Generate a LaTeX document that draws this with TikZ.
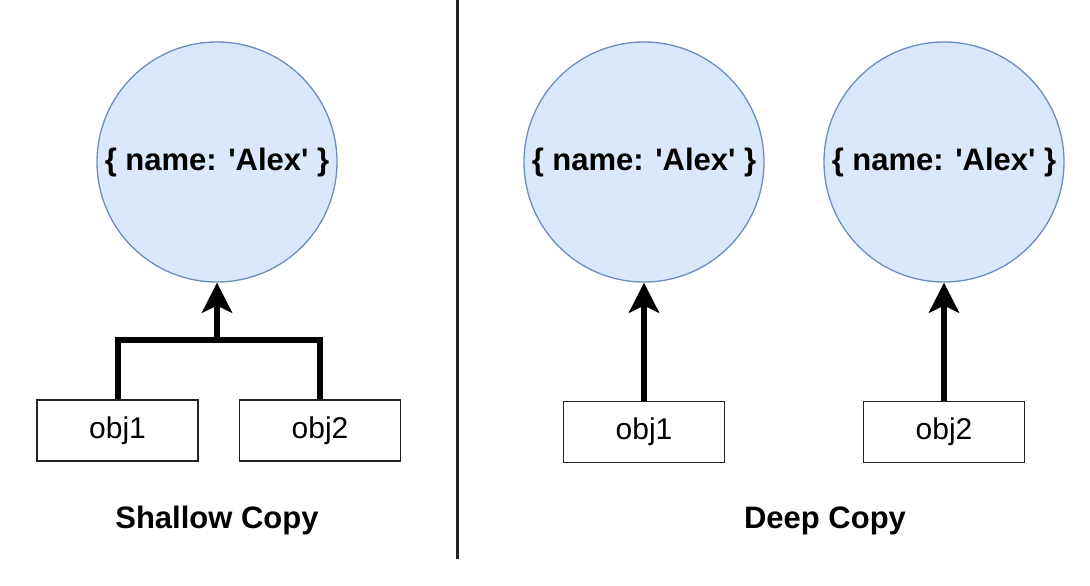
\documentclass[tikz,border=0pt]{standalone}
\usepackage{fontspec}
\setmainfont{Liberation Sans}
\usepackage{tikz}
\usetikzlibrary{arrows.meta, positioning, calc}
\usepackage{xcolor}
\definecolor{heapfill}{HTML}{DAE8FC}
\definecolor{heapline}{HTML}{6C8EBF}
\definecolor{inkdark}{RGB}{34,34,34}

\begin{document}
\begin{tikzpicture}[x=1pt, y=-1pt,
  heap/.style={draw=heapline, line width=1.3pt, circle, fill=heapfill, minimum size=240pt, inner sep=0pt, font=\fontsize{31}{34}\selectfont\bfseries},
  ref/.style={draw=inkdark, line width=1.8pt, fill=white, minimum width=161pt, minimum height=61pt, inner sep=0pt, font=\fontsize{30}{32}\selectfont},
  link/.style={line width=6pt, black},
  linkhead/.style={link, -{Stealth[length=30pt, width=30pt, inset=7pt]}},
  caption/.style={font=\fontsize{31}{36}\selectfont\bfseries, anchor=base}]
  \useasboundingbox (0,0) rectangle (1090,586);
  % shallow copy
  \node[heap] (shallow) at (217, 162) {\{ name: \textquotesingle Alex\textquotesingle\ \}};
  \node[ref] (sobj1) at (117.5, 430.5) {obj1};
  \node[ref] (sobj2) at (320, 430.5) {obj2};
  \coordinate (fork) at (217, 340);
  \draw[link] (sobj1.north) |- (fork) -| (sobj2.north);
  \draw[linkhead] (fork) -- (shallow.south);
  \node[caption] (shallowcap) at (217, 528) {Shallow Copy};
  % divider
  \coordinate (divtop) at (457, 0);
  \coordinate (divbot) at (457, 559);
  \draw[line width=3pt, inkdark] (divtop) -- (divbot);
  % deep copy
  \node[heap] (deep1) at (644, 162) {\{ name: \textquotesingle Alex\textquotesingle\ \}};
  \node[heap] (deep2) at (944, 162) {\{ name: \textquotesingle Alex\textquotesingle\ \}};
  \node[ref] (dobj1) at (644, 432) {obj1};
  \node[ref] (dobj2) at (944, 432) {obj2};
  \draw[linkhead] (dobj1.north) -- (deep1.south);
  \draw[linkhead] (dobj2.north) -- (deep2.south);
  \node[caption] (deepcap) at (825, 528) {Deep Copy};
\end{tikzpicture}
\end{document}
